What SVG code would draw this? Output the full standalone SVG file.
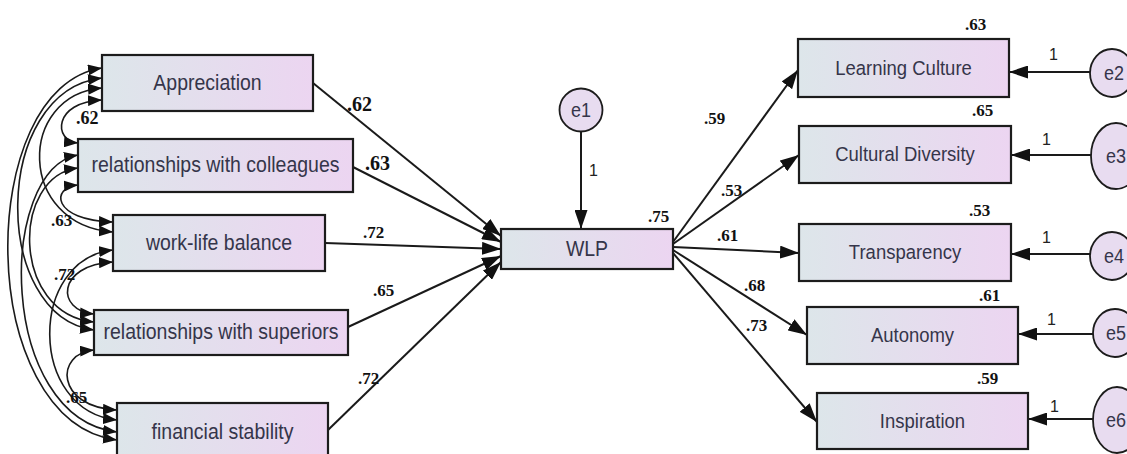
<svg xmlns="http://www.w3.org/2000/svg" width="1127" height="454" viewBox="0 0 1127 454">
<defs>
<linearGradient id="bg" x1="0" y1="0" x2="1" y2="0">
<stop offset="0" stop-color="#dde6ea"/>
<stop offset="1" stop-color="#ecd5f1"/>
</linearGradient>
<marker id="ah" markerUnits="userSpaceOnUse" markerWidth="19" markerHeight="13" refX="19" refY="6.5" orient="auto">
<path d="M0,0 L19,6.5 L0,13 z" fill="#111"/>
</marker>
<marker id="as" markerUnits="userSpaceOnUse" markerWidth="14" markerHeight="11" refX="14" refY="5.5" orient="auto-start-reverse">
<path d="M0,0 L14,5.5 L0,11 z" fill="#111"/>
</marker>
<style>
.box{fill:url(#bg);stroke:#1c1c1c;stroke-width:2.2}
.err{fill:#e8dcf0;stroke:#1c1c1c;stroke-width:1.8}
.lbl{font-family:"Liberation Sans",Arial,sans-serif;fill:#35354a;text-anchor:middle}
.num{font-family:"Liberation Serif","Times New Roman",serif;font-weight:bold;fill:#111}
.one{font-family:"Liberation Sans",Arial,sans-serif;fill:#222;font-size:16px}
.ln{fill:none;stroke:#1a1a1a;stroke-width:2;marker-end:url(#ah)}
.cv{fill:none;stroke:#1a1a1a;stroke-width:1.6;marker-start:url(#as);marker-end:url(#as)}
</style>
</defs>
<rect width="1127" height="454" fill="#fff"/>

<g id="connectors">
<path class="cv" d="M102,68 C-26,87 -26,421 117,440"/>
<path class="cv" d="M102,78 C-9,91 -9,317 94,330"/>
<path class="cv" d="M102,88 C17,95 17,225 113,232"/>
<path class="cv" d="M102,100 C53,102 53,141 78,143"/>
<path class="cv" d="M78,155 C-3,169 -3,418 117,432"/>
<path class="cv" d="M78,168 C11,176 11,314 94,322"/>
<path class="cv" d="M78,185 C51,187 51,220 113,222"/>
<path class="cv" d="M113,250 C28,259 28,411 117,420"/>
<path class="cv" d="M113,262 C56,265 56,311 94,314"/>
<path class="cv" d="M94,350 C55,353 55,407 117,410"/>
<path class="ln" d="M313,83 L501,236"/>
<path class="ln" d="M353,167 L501,242"/>
<path class="ln" d="M325,243 L501,249"/>
<path class="ln" d="M348,327 L501,256"/>
<path class="ln" d="M328,430 L501,262"/>
<path class="ln" d="M581,132 L581,229"/>
<path class="ln" d="M673,242 L798,70"/>
<path class="ln" d="M673,244 L799,155"/>
<path class="ln" d="M673,247 L799,253"/>
<path class="ln" d="M673,250 L807,335"/>
<path class="ln" d="M673,253 L817,422"/>
<path class="ln" d="M1090,72 L1009,72"/>
<path class="ln" d="M1091,155 L1011,155"/>
<path class="ln" d="M1090,254 L1011,254"/>
<path class="ln" d="M1093,334 L1018,334"/>
<path class="ln" d="M1093,419 L1028,419"/>
<text class="num" x="347" y="111" font-size="20">.62</text>
<text class="num" x="365" y="170" font-size="20">.63</text>
<text class="num" x="363" y="238" font-size="17">.72</text>
<text class="num" x="373" y="296" font-size="17">.65</text>
<text class="num" x="358" y="384" font-size="17">.72</text>
<text class="num" x="76" y="124" font-size="18">.62</text>
<text class="num" x="51" y="226" font-size="17">.63</text>
<text class="num" x="54" y="280" font-size="17">.72</text>
<text class="num" x="66" y="403" font-size="17">.65</text>
<text class="one" x="589" y="176">1</text>
<text class="num" x="648" y="222" font-size="17">.75</text>
<text class="num" x="704" y="124" font-size="17">.59</text>
<text class="num" x="721" y="196" font-size="17">.53</text>
<text class="num" x="717" y="241" font-size="17">.61</text>
<text class="num" x="744" y="291" font-size="17">.68</text>
<text class="num" x="746" y="331" font-size="17">.73</text>
<text class="num" x="965" y="30" font-size="17">.63</text>
<text class="num" x="972" y="116" font-size="17">.65</text>
<text class="num" x="969" y="216" font-size="17">.53</text>
<text class="num" x="979" y="301" font-size="17">.61</text>
<text class="num" x="977" y="384" font-size="17">.59</text>
<text class="one" x="1049" y="60">1</text>
<text class="one" x="1042" y="145">1</text>
<text class="one" x="1042" y="243">1</text>
<text class="one" x="1047" y="325">1</text>
<text class="one" x="1050" y="412">1</text>
</g>

<g id="appreciation"><rect class="box" x="102" y="55" width="211" height="56"/><text class="lbl" transform="translate(207.5,90) scale(1,1.12)" font-size="19.5">Appreciation</text></g>
<g id="colleagues"><rect class="box" x="78" y="139" width="275" height="53"/><text class="lbl" transform="translate(215.5,172) scale(1,1.12)" font-size="19.5">relationships with colleagues</text></g>
<g id="worklife"><rect class="box" x="113" y="215" width="212" height="56"/><text class="lbl" transform="translate(219,250) scale(1,1.12)" font-size="19.5">work-life balance</text></g>
<g id="superiors"><rect class="box" x="94" y="310" width="254" height="45"/><text class="lbl" transform="translate(221,339) scale(1,1.12)" font-size="19.5">relationships with superiors</text></g>
<g id="financial"><rect class="box" x="117" y="403" width="211" height="60"/><text class="lbl" transform="translate(222.5,439) scale(1,1.12)" font-size="19.5">financial stability</text></g>

<g id="wlp"><rect class="box" x="501" y="229" width="172" height="40"/><text class="lbl" transform="translate(587,256) scale(1,1.12)" font-size="19.5">WLP</text></g>
<g id="e1"><circle class="err" cx="581" cy="110" r="21.5"/><text class="lbl" transform="translate(581,117) scale(1,1.12)" font-size="18">e1</text></g>

<g id="learning"><rect class="box" x="798" y="39" width="211" height="58"/><text class="lbl" transform="translate(903.5,75) scale(1,1.12)" font-size="18.5">Learning Culture</text></g>
<g id="diversity"><rect class="box" x="799" y="126" width="212" height="57"/><text class="lbl" transform="translate(905,161) scale(1,1.12)" font-size="18.5">Cultural Diversity</text></g>
<g id="transparency"><rect class="box" x="799" y="224" width="212" height="57"/><text class="lbl" transform="translate(905,259) scale(1,1.12)" font-size="18.5">Transparency</text></g>
<g id="autonomy"><rect class="box" x="807" y="307" width="211" height="57"/><text class="lbl" transform="translate(912.5,342) scale(1,1.12)" font-size="18.5">Autonomy</text></g>
<g id="inspiration"><rect class="box" x="817" y="393" width="211" height="56"/><text class="lbl" transform="translate(922.5,428) scale(1,1.12)" font-size="18.5">Inspiration</text></g>

<g id="e2"><ellipse class="err" cx="1112" cy="73" rx="22" ry="24"/><text class="lbl" transform="translate(1114,80) scale(1,1.12)" font-size="18">e2</text></g>
<g id="e3"><ellipse class="err" cx="1116" cy="156" rx="25" ry="33"/><text class="lbl" transform="translate(1116,163) scale(1,1.12)" font-size="18">e3</text></g>
<g id="e4"><ellipse class="err" cx="1112" cy="256" rx="22" ry="24"/><text class="lbl" transform="translate(1114,263) scale(1,1.12)" font-size="18">e4</text></g>
<g id="e5"><ellipse class="err" cx="1115" cy="333" rx="22" ry="24"/><text class="lbl" transform="translate(1116,340) scale(1,1.12)" font-size="18">e5</text></g>
<g id="e6"><ellipse class="err" cx="1117" cy="420" rx="24" ry="33"/><text class="lbl" transform="translate(1116,427) scale(1,1.12)" font-size="18">e6</text></g>
</svg>
